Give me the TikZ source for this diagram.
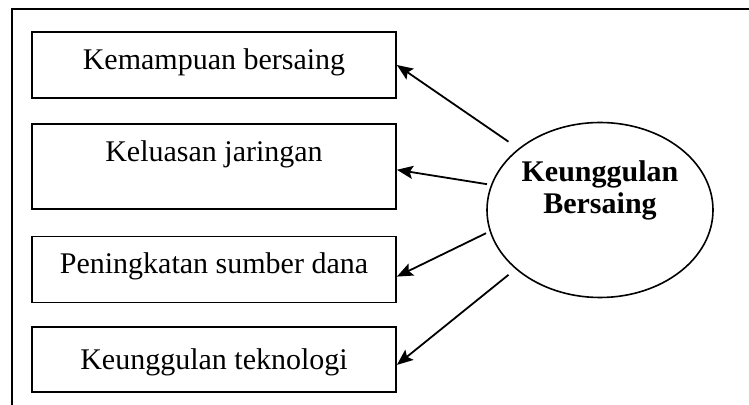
\documentclass[tikz,border=0pt]{standalone}
\usepackage{fontspec}
\setmainfont{Liberation Serif}
\usetikzlibrary{shapes.geometric, arrows.meta, positioning}
\tikzset{
  box/.style={rectangle, draw=black, line width=0.9pt, minimum width=182pt, minimum height=33pt, inner sep=0pt, text height=10pt, font=\fontsize{15}{18}\selectfont, align=center},
  oval/.style={ellipse, draw=black, line width=0.8pt, minimum width=113pt, minimum height=87.5pt, inner sep=0pt},
  arrow/.style={-{Stealth[length=8pt, width=6.5pt, inset=1.5pt]}, line width=0.9pt},
  frame/.style={line width=0.9pt},
}

\begin{document}
\begin{tikzpicture}
  \useasboundingbox (0,0) rectangle (374.5pt,-202.5pt);
  \draw[frame] (6pt,-202.5pt) -- (6pt,-4.5pt) -- (374.5pt,-4.5pt);

  \node[box, text depth=5pt] (b1) at (107pt,-32.5pt) {Kemampuan bersaing};
  \node[box, minimum height=42.5pt, text depth=14.5pt, below=12pt of b1] (b2) {Keluasan jaringan};
  \node[box, text depth=6pt, below=13pt of b2] (b3) {Peningkatan sumber dana};
  \node[box, minimum height=32.5pt, text depth=0pt, below=11.5pt of b3] (b4) {Keunggulan teknologi};

  \node[oval] (kb) at (300pt,-105pt) {};
  \node[font=\fontsize{15}{16}\selectfont\bfseries, align=center] (kblabel) at ([yshift=9.7pt]kb.center) {Keunggulan\\Bersaing};

  \draw[arrow, shorten <=6pt] (kb.143.5) -- (b1.east);
  \draw[arrow, shorten <=2pt] (kb.167.5) -- ([yshift=-1.75pt]b2.east);
  \draw[arrow, shorten <=2pt] (kb.191) -- ([yshift=-3.5pt]b3.east);
  \draw[arrow, shorten <=4.5pt] (kb.215.8) -- ([yshift=-2.5pt]b4.east);
\end{tikzpicture}
\end{document}
